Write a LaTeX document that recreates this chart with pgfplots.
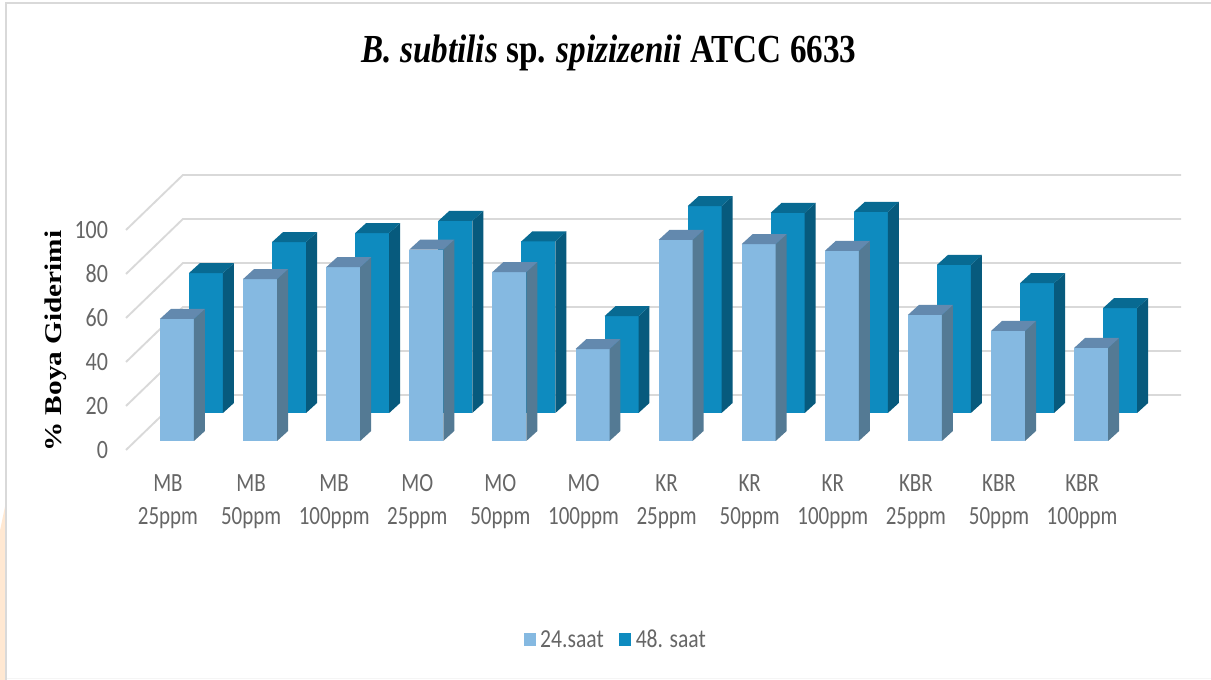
\documentclass[border=0pt]{standalone}
\usepackage{pgfplots}
\pgfplotsset{compat=1.18}
\usepackage{fontspec}
\setmainfont{Liberation Serif}
\newfontfamily\lab{Carlito}
\definecolor{gridc}{HTML}{D9D9D9}
\definecolor{txt}{HTML}{666666}
\definecolor{peach}{HTML}{FFE8D2}
\definecolor{af}{HTML}{85B9E1}
\definecolor{as}{HTML}{547A94}
\definecolor{at}{HTML}{6389AE}
\definecolor{bf}{HTML}{0E8BBF}
\definecolor{bs}{HTML}{075A7D}
\definecolor{bt}{HTML}{086A92}
% one bar: category, value, x offset, base, front, side, top colours
\newcommand{\tbar}[7]{%
  \pgfmathsetmacro\xa{#1+#3}\pgfmathsetmacro\xb{\xa+0.409}%
  \pgfmathsetmacro\xc{\xb+0.132}\pgfmathsetmacro\xd{\xa+0.132}%
  \pgfmathsetmacro\yb{#4}\pgfmathsetmacro\yt{#4+#2}%
  \pgfmathsetmacro\ybb{\yb+4.55}\pgfmathsetmacro\ytt{\yt+4.55}%
  \addplot[forget plot,draw=none,fill=#5] coordinates {(\xa,\yb) (\xb,\yb) (\xb,\yt) (\xa,\yt)} --cycle;
  \addplot[forget plot,draw=none,fill=#6] coordinates {(\xb,\yb) (\xc,\ybb) (\xc,\ytt) (\xb,\yt)} --cycle;
  \addplot[forget plot,draw=none,fill=#7] coordinates {(\xa,\yt) (\xb,\yt) (\xc,\ytt) (\xd,\ytt)} --cycle;
}
\newcommand{\back}[2]{\tbar{#1}{#2}{0.253}{16.82}{bf}{bs}{bt}}
\newcommand{\front}[2]{\tbar{#1}{#2}{-0.096}{4.09}{af}{as}{at}}
\newcommand{\wall}[1]{%
  \pgfmathsetmacro\yw{#1+25}%
  \addplot[forget plot,gridc,line width=1.4pt] coordinates {(-0.505,#1) (0.18,\yw) (12.19,\yw)};
}
\begin{document}
\begin{tikzpicture}
\path[use as bounding box,fill=white] (0pt,0pt) rectangle (908.25pt,510pt);
\fill[peach] (0pt,0pt) -- (3.75pt,0pt) -- (3.75pt,130pt) -- (0pt,112pt) -- cycle;
\fill[gridc] (3.75pt,0pt) rectangle (5.4pt,508.5pt);
\fill[gridc] (3.75pt,507pt) rectangle (908.25pt,508.5pt);
\fill[black!4] (5.4pt,1pt) rectangle (908.25pt,1.6pt);
\begin{axis}[
  at={(94.5pt,172.5pt)},anchor=south west,
  scale only axis,width=748.5pt,height=165pt,
  xmin=-0.505,xmax=11.504,ymin=0,ymax=100,
  clip=false,
  axis line style={draw=none},
  major tick length=0pt,
  xtick={0,...,11},
  xticklabels={{MB\\25ppm},{MB\\50ppm},{MB\\100ppm},{MO\\25ppm},{MO\\50ppm},{MO\\100ppm},{KR\\25ppm},{KR\\50ppm},{KR\\100ppm},{KBR\\25ppm},{KBR\\50ppm},{KBR\\100ppm}},
  x tick label style={align=center,text=txt,anchor=north,yshift=-13.75pt,yscale=1.25,transform shape,
    font=\lab\fontsize{15.75pt}{19.8pt}\selectfont},
  ytick={0,20,...,100},
  y tick label style={text=txt,font=\lab\fontsize{16.5pt}{18pt}\selectfont,xshift=-10pt,yscale=1.2,transform shape},
  /pgf/number format/assume math mode=true,
  title={\textbf{\textit{B. subtilis} sp. \textit{spizizenii} ATCC 6633}},
  title style={at={(rel axis cs:0.484,1.725)},anchor=base,yscale=1.2,transform shape,font=\fontsize{24.85pt}{28pt}\selectfont},
  ylabel={\textbf{\% Boya Giderimi}},
  ylabel style={at={(rel axis cs:-0.0705,0.495)},anchor=center,xscale=1.22,transform shape,font=\fontsize{18pt}{20pt}\selectfont},
  legend style={draw=none,fill=none,at={(rel axis cs:0.491,-0.864)},anchor=center,
    legend columns=2,font=\lab\fontsize{16.2pt}{18pt}\selectfont,text=txt,
    nodes={yscale=1.2,transform shape},
    /tikz/every even column/.append style={column sep=9.5pt}},
  legend image code/.code={\fill[#1] (0pt,-4.5pt) rectangle (9pt,5pt);\path (10.5pt,0pt);},
]
\addlegendimage{fill=af,draw=none}
\addlegendentry{24.saat}
\addlegendimage{fill=bf,draw=none}
\addlegendentry{48. saat}
\wall{0}\wall{20}\wall{40}\wall{60}\wall{80}\wall{100}
\back{0}{63.6}\back{1}{77.7}\back{2}{81.8}\back{3}{87.3}\back{4}{78.0}\back{5}{44.0}
\back{6}{94.0}\back{7}{91.0}\back{8}{91.4}\back{9}{67.3}\back{10}{59.0}\back{11}{47.7}
\front{0}{55.5}\front{1}{73.6}\front{2}{79.0}\front{3}{87.0}\front{4}{76.8}\front{5}{41.8}
\front{6}{91.4}\front{7}{89.5}\front{8}{86.4}\front{9}{57.3}\front{10}{50.0}\front{11}{42.3}
\end{axis}
\end{tikzpicture}
\end{document}
